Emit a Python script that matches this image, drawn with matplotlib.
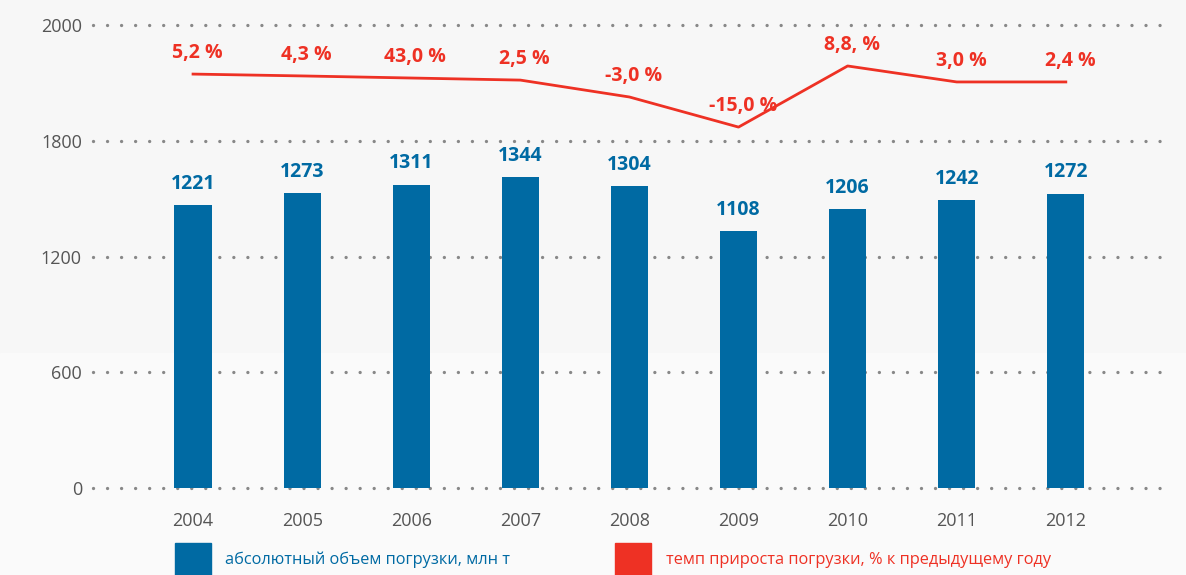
"""Loading volume bars with growth-rate line (recreated chart)."""

import matplotlib.pyplot as plt
import numpy as np
from matplotlib.patches import Rectangle

plt.rcParams["font.family"] = ["Open Sans", "DejaVu Sans"]

YEARS = ["2004", "2005", "2006", "2007", "2008", "2009", "2010", "2011", "2012"]
VOLUME = [1221, 1273, 1311, 1344, 1304, 1108, 1206, 1242, 1272]
# height of the growth-rate line as drawn, in the bar axis units
GROWTH_LEVEL = [1788, 1780, 1771, 1762, 1689, 1559, 1823, 1754, 1754]
GROWTH_LABELS = ["5,2 %", "4,3 %", "43,0 %", "2,5 %", "-3,0 %", "-15,0 %",
                 "8,8, %", "3,0 %", "2,4 %"]
TICK_POS = [0, 500, 1000, 1500, 2000]
TICK_LABELS = ["0", "600", "1200", "1800", "2000"]

BLUE = "#006aa3"
RED = "#ee3124"
GREY = "#555555"

W, H = 1186, 575
fig = plt.figure(figsize=(W / 100, H / 100), dpi=100, facecolor="#f7f7f7")
fig.patches.append(Rectangle((0, 0), 1, (H - 353) / H, transform=fig.transFigure,
                             color="#fafafa", zorder=-1))

ax = fig.add_axes([93 / W, (H - 488) / H, (1170 - 93) / W, (488 - 25) / H])
ax.set_facecolor("none")
x = np.arange(len(YEARS))

for t in TICK_POS:
    ax.plot([-0.917, 8.955], [t, t], color="#888888", lw=2.4,
            dashes=(0.01, 4.2), dash_capstyle="round", zorder=1,
            clip_on=False)

ax.bar(x, VOLUME, width=0.34, color=BLUE, zorder=2)
for xi, v in zip(x, VOLUME):
    ax.annotate(str(v), (xi, v), xytext=(0, 8), textcoords="offset points",
                ha="center", va="bottom", color=BLUE, fontsize=14,
                fontweight="bold")

ax.plot(x, GROWTH_LEVEL, color=RED, lw=2, zorder=3)
for xi, v, lab in zip(x, GROWTH_LEVEL, GROWTH_LABELS):
    ax.annotate(lab, (xi, v), xytext=(3, 8), textcoords="offset points",
                ha="center", va="bottom", color=RED, fontsize=14,
                fontweight="bold")

ax.set_xlim(-0.917, 8.955)
ax.set_ylim(0, 2000)
ax.set_yticks(TICK_POS)
ax.set_yticklabels(TICK_LABELS)
ax.set_xticks(x)
ax.set_xticklabels(YEARS)
ax.tick_params(axis="y", length=0, pad=8, labelsize=13, labelcolor=GREY)
ax.tick_params(axis="x", length=0, pad=17, labelsize=13, labelcolor=GREY)
for s in ax.spines.values():
    s.set_visible(False)

# legend
fig.patches.append(Rectangle((175 / W, 0), 36 / W, 32 / H,
                             transform=fig.transFigure, color=BLUE))
fig.text(225 / W, (H - 560) / H, "абсолютный объем погрузки, млн т",
         color=BLUE, fontsize=11.8, va="center")
fig.patches.append(Rectangle((615 / W, 0), 36 / W, 32 / H,
                             transform=fig.transFigure, color=RED))
fig.text(666 / W, (H - 560) / H, "темп прироста погрузки, % к предыдущему году",
         color=RED, fontsize=11.8, va="center")

fig.savefig("out.png", dpi=100, facecolor=fig.get_facecolor())
